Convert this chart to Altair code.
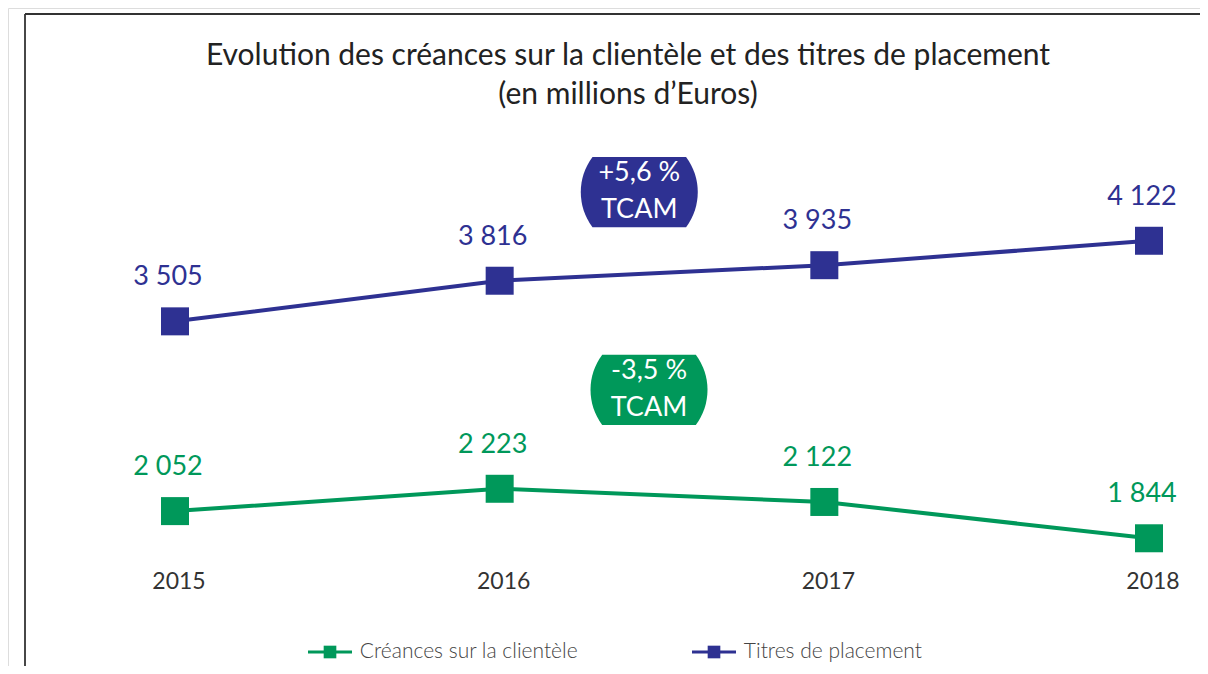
import altair as alt
import pandas as pd

years = [2015, 2016, 2017, 2018]
series_names = ["Créances sur la clientèle", "Titres de placement"]
creances = [2052, 2223, 2122, 1844]
titres = [3505, 3816, 3935, 4122]
colors = ["#00985A", "#2E3192"]
badge_lines = [["-3,5 %", "TCAM"], ["+5,6 %", "TCAM"]]
# badge anchor positions in data units (year, value)
badge_x = [2016.46, 2016.43]
badge_y = [2981, 4495]

title_l1 = "Evolution des créances sur la clientèle et des titres de placement"
title_l2 = "(en millions d\u2019Euros)"

FONT = "Lato"

rows = []
for name, vals in zip(series_names, [creances, titres]):
    for y, v in zip(years, vals):
        rows.append({"serie": name, "year": y, "value": v,
                     "label": f"{v:,}".replace(",", " ")})
df = pd.DataFrame(rows)

xs = alt.Scale(domain=[2015, 2018], range=[167, 1141])
ys = alt.Scale(domain=[1000, 5000], range=[640.5, 118.1])
cs = alt.Scale(domain=series_names, range=colors)

base = alt.Chart(df)

lines = base.mark_line(strokeWidth=4).encode(
    x=alt.X("year:Q", scale=xs, axis=None),
    y=alt.Y("value:Q", scale=ys, axis=None),
    color=alt.Color("serie:N", scale=cs, legend=None),
)
points = base.mark_point(shape="square", filled=True, size=784, opacity=1).encode(
    x=alt.X("year:Q", scale=xs, axis=None),
    y=alt.Y("value:Q", scale=ys, axis=None),
    color=alt.Color("serie:N", scale=cs, legend=None),
)
labels = base.mark_text(font=FONT, fontSize=27, dy=-44, dx=-7).encode(
    x=alt.X("year:Q", scale=xs, axis=None),
    y=alt.Y("value:Q", scale=ys, axis=None),
    text="label:N",
    color=alt.Color("serie:N", scale=cs, legend=None),
)

# year labels
ydf = pd.DataFrame({"year": years, "txt": [str(y) for y in years]})
year_labels = alt.Chart(ydf).mark_text(font=FONT, fontSize=23, color="#333333", dx=4).encode(
    x=alt.X("year:Q", scale=xs, axis=None),
    y=alt.value(574),
    text="txt:N",
)

# badges
bdf = pd.DataFrame({
    "serie": series_names,
    "bx": badge_x,
    "by": badge_y,
    "l1": [b[0] for b in badge_lines],
    "l2": [b[1] for b in badge_lines],
})
badge_path = "M -0.8 -0.6 L 0.8 -0.6 A 1 1 0 0 1 0.8 0.6 L -0.8 0.6 A 1 1 0 0 1 -0.8 -0.6 Z"
badges = alt.Chart(bdf).mark_point(shape=badge_path, filled=True, size=117 * 117, opacity=1).encode(
    x=alt.X("bx:Q", scale=xs, axis=None),
    y=alt.Y("by:Q", scale=ys, axis=None),
    color=alt.Color("serie:N", scale=cs, legend=None),
)
badge_t1 = alt.Chart(bdf).mark_text(font=FONT, fontSize=27, color="white", dy=-19).encode(
    x=alt.X("bx:Q", scale=xs, axis=None), y=alt.Y("by:Q", scale=ys, axis=None), text="l1:N")
badge_t2 = alt.Chart(bdf).mark_text(font=FONT, fontSize=27, color="white", dy=18).encode(
    x=alt.X("bx:Q", scale=xs, axis=None), y=alt.Y("by:Q", scale=ys, axis=None), text="l2:N")

# titles
tdf = pd.DataFrame({"t": [title_l1, title_l2], "row": [0, 1]})
title = alt.Chart(tdf).mark_text(font=FONT, fontSize=30, color="#222222").encode(
    x=alt.value(620),
    y=alt.Y("row:Q", scale=alt.Scale(domain=[0, 1], range=[48, 87]), axis=None),
    text="t:N",
)

# manual legend
ldf = pd.DataFrame({"serie": series_names, "i": [0, 1]})
lx = alt.Scale(domain=[0, 1], range=[300, 684])
leg_line = alt.Chart(ldf).mark_rule(strokeWidth=3).encode(
    x=alt.X("i:Q", scale=lx, axis=None), x2=alt.X2("i2:Q"),
    y=alt.value(644),
    color=alt.Color("serie:N", scale=cs, legend=None),
).transform_calculate(i2="datum.i + 0.1146")
leg_sq = alt.Chart(ldf).mark_point(shape="square", filled=True, size=160, opacity=1).encode(
    x=alt.X("ic:Q", scale=lx, axis=None),
    y=alt.value(644),
    color=alt.Color("serie:N", scale=cs, legend=None),
).transform_calculate(ic="datum.i + 0.0573")
leg_txt = alt.Chart(ldf).mark_text(font=FONT, fontSize=21, color="#444444", align="left",
                                   fontWeight=300).encode(
    x=alt.X("it:Q", scale=lx, axis=None),
    y=alt.value(644),
    text="serie:N",
).transform_calculate(it="datum.i + 0.135")

# frame
frame_top = alt.Chart(pd.DataFrame({"a": [0]})).mark_rule(color="#333333", strokeWidth=1.8).encode(
    x=alt.value(17), x2=alt.value(1192), y=alt.value(6))
frame_left = alt.Chart(pd.DataFrame({"a": [0]})).mark_rule(color="#333333", strokeWidth=1.8).encode(
    x=alt.value(17), y=alt.value(6), y2=alt.value(658))

chart = alt.layer(
    frame_top, frame_left, title, lines, points, labels, year_labels,
    badges, badge_t1, badge_t2, leg_line, leg_sq, leg_txt,
).resolve_scale(
    x="independent", y="independent",
).properties(
    width=1192, height=658, padding=0, autosize="none",
).configure_view(stroke="transparent", strokeWidth=0).configure(background="white")

chart.save("out.html", embed_options={"renderer": "svg", "actions": False})
